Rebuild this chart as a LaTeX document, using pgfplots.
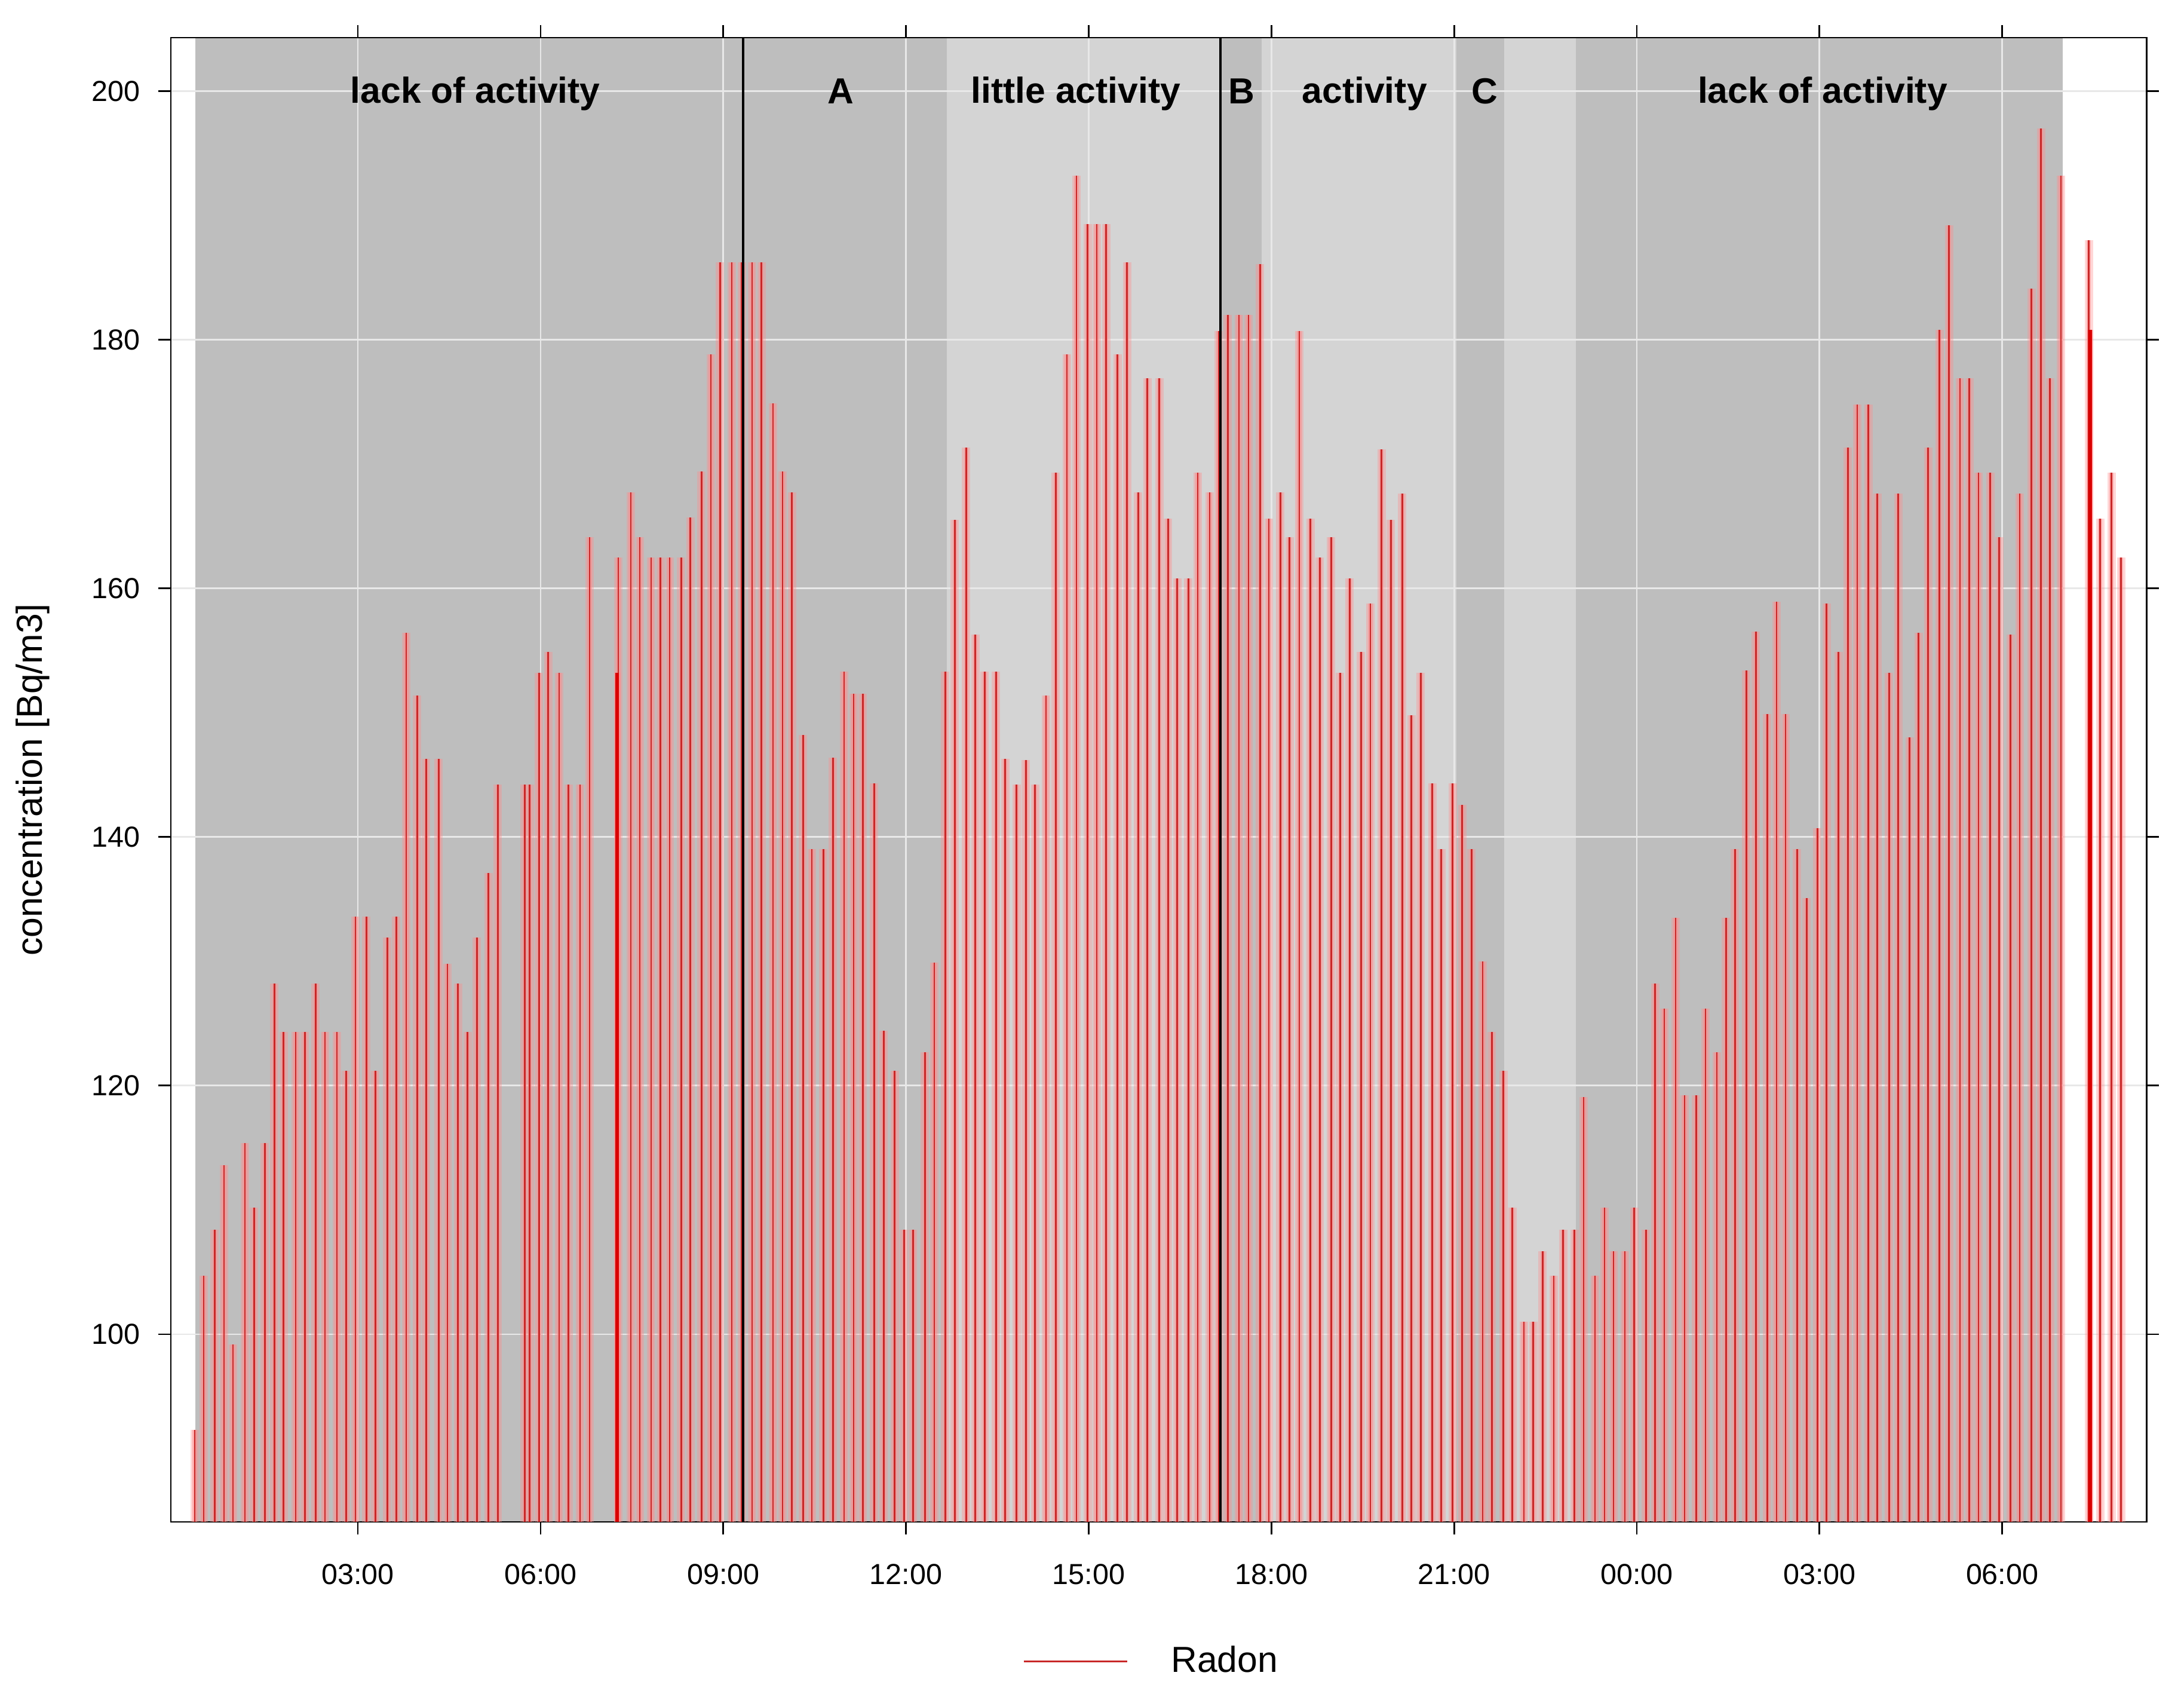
\documentclass[border=0pt]{standalone}
\usepackage{pgfplots}
\pgfplotsset{compat=1.18}
\usepackage{pgfplotstable}
\usepackage{fontspec}
\setmainfont{Liberation Sans}

\definecolor{bgdark}{RGB}{190,190,190}
\definecolor{bglight}{RGB}{212,212,212}
\definecolor{gridc}{RGB}{232,232,232}
\definecolor{halo}{RGB}{255,140,140}
\definecolor{core}{RGB}{200,40,40}

% hours since midnight of day 1, radon concentration
\pgfplotstableread{
t rn
0.322 92.3
0.469 104.7
0.649 108.4
0.802 113.6
0.950 99.2
1.146 115.4
1.296 110.2
1.473 115.4
1.630 128.2
1.780 124.3
1.979 124.3
2.130 124.3
2.306 128.2
2.460 124.3
2.656 124.3
2.806 121.2
2.960 133.6
3.140 133.6
3.287 121.2
3.483 131.9
3.630 133.6
3.794 156.4
3.974 151.4
4.121 146.3
4.327 146.3
4.471 129.8
4.644 128.2
4.801 124.3
4.954 131.9
5.145 137.1
5.298 144.2
5.740 144.2
5.821 144.2
5.975 153.2
6.125 154.9
6.305 153.2
6.459 144.2
6.648 144.2
6.805 164.1
7.275 162.5
7.482 167.7
7.629 164.1
7.815 162.5
7.970 162.5
8.120 162.5
8.309 162.5
8.460 165.7
8.643 169.4
8.797 178.8
8.947 186.2
9.140 186.2
9.303 186.2
9.473 186.2
9.627 186.2
9.816 174.9
9.973 169.4
10.127 167.7
10.310 148.2
10.454 139.0
10.644 139.0
10.801 146.4
10.984 153.3
11.141 151.5
11.291 151.5
11.477 144.3
11.634 124.4
11.814 121.2
11.968 108.4
12.115 108.4
12.311 122.7
12.465 129.9
12.645 153.3
12.801 165.5
12.988 171.3
13.138 156.3
13.292 153.3
13.478 153.3
13.629 146.3
13.815 144.2
13.969 146.2
14.120 144.2
14.299 151.4
14.459 169.3
14.643 178.8
14.800 193.2
14.983 189.3
15.133 189.3
15.287 189.3
15.473 178.8
15.630 186.2
15.813 167.7
15.964 176.9
16.160 176.9
16.302 165.6
16.454 160.8
16.637 160.8
16.791 169.3
16.987 167.7
17.134 180.7
17.284 182.0
17.467 182.0
17.624 182.0
17.813 186.1
17.958 165.6
18.147 167.7
18.298 164.1
18.458 180.7
18.641 165.6
18.794 162.5
18.979 164.1
19.128 153.2
19.285 160.8
19.471 154.9
19.625 158.8
19.808 171.2
19.962 165.5
20.148 167.6
20.299 149.8
20.452 153.2
20.642 144.3
20.789 139.0
20.976 144.3
21.133 142.6
21.286 139.0
21.469 130.0
21.620 124.3
21.809 121.2
21.956 110.2
22.146 101.0
22.299 101.0
22.453 106.7
22.636 104.7
22.790 108.4
22.976 108.4
23.126 119.1
23.313 104.7
23.470 110.2
23.617 106.7
23.804 106.7
23.958 110.2
24.150 108.4
24.301 128.2
24.451 126.2
24.637 133.5
24.784 119.2
24.974 119.2
25.128 126.2
25.314 122.7
25.465 133.5
25.611 139.0
25.798 153.4
25.955 156.5
26.141 149.9
26.295 158.9
26.442 149.9
26.632 139.0
26.788 135.1
26.967 140.7
27.116 158.8
27.312 154.9
27.466 171.3
27.620 174.8
27.803 174.8
27.950 167.6
28.143 153.2
28.293 167.6
28.480 148.0
28.627 156.4
28.784 171.3
28.970 180.8
29.127 189.2
29.306 176.9
29.460 176.9
29.611 169.3
29.804 169.3
29.951 164.1
30.137 156.3
30.287 167.6
30.481 184.1
30.637 197.0
30.784 176.9
30.964 193.2
31.422 188.0
31.608 165.6
31.794 169.3
31.951 162.5
}\radon

% doubled readings, drawn heavier
\pgfplotstableread{
t rn
7.260 153.2
31.448 180.8
}\radondup

\begin{document}
\begin{tikzpicture}[font=\fontsize{13}{15}\selectfont]
\begin{axis}[
  set layers,
  scale only axis, width=709.2pt, height=532.7pt,
  xmin=-0.07, xmax=32.37, ymin=84.9, ymax=204.3,
  axis line style={line width=0.6pt},
  tick align=outside, tick pos=both, major tick length=4.5pt,
  tick style={line width=0.6pt, black},
  xticklabel pos=bottom, yticklabel pos=left,
  xtick={3,6,...,30},
  xticklabels={03:00,06:00,09:00,12:00,15:00,18:00,21:00,00:00,03:00,06:00},
  ytick={100,120,...,200},
  grid=major, major grid style={gridc, line width=0.6pt},
  ticklabel style={font=\fontsize{10.4}{12}\selectfont},
  xticklabel style={yshift=-7pt},
  yticklabel style={xshift=-3pt},
  /pgf/number format/assume math mode=true,
  ylabel={concentration [Bq/m3]},
  every axis y label/.style={at={(axis description cs:-0.0698,0.5)}, rotate=90, anchor=center},
  legend style={at={(axis description cs:0.5,0)}, anchor=center, yshift=-50pt, xshift=-2pt,
    draw=none, fill=none, font=\fontsize{13}{15}\selectfont,
    /tikz/every odd column/.append style={column sep=13.5pt}},
  legend image code/.code={\draw[core, line width=0.7pt] (0pt,0pt) -- (37pt,0pt);},
]
% activity periods
\addplot[fill=bgdark, draw=none, forget plot, on layer=axis background] coordinates {(0.335,84.9) (0.335,204.3) (12.67,204.3) (12.67,84.9)};
\addplot[fill=bglight, draw=none, forget plot, on layer=axis background] coordinates {(12.67,84.9) (12.67,204.3) (17.166,204.3) (17.166,84.9)};
\addplot[fill=bgdark, draw=none, forget plot, on layer=axis background] coordinates {(17.166,84.9) (17.166,204.3) (17.837,204.3) (17.837,84.9)};
\addplot[fill=bglight, draw=none, forget plot, on layer=axis background] coordinates {(17.837,84.9) (17.837,204.3) (21.041,204.3) (21.041,84.9)};
\addplot[fill=bgdark, draw=none, forget plot, on layer=axis background] coordinates {(21.041,84.9) (21.041,204.3) (21.825,204.3) (21.825,84.9)};
\addplot[fill=bglight, draw=none, forget plot, on layer=axis background] coordinates {(21.825,84.9) (21.825,204.3) (23.002,204.3) (23.002,84.9)};
\addplot[fill=bgdark, draw=none, forget plot, on layer=axis background] coordinates {(23.002,84.9) (23.002,204.3) (30.99,204.3) (30.99,84.9)};

% soft pink glow round each spike, as in the reference
\addplot[ycomb, draw=halo, draw opacity=0.35, line width=3.0pt, forget plot] table[x=t, y=rn] {\radon};
\addplot[ycomb, draw=halo, draw opacity=0.55, line width=1.6pt, forget plot] table[x=t, y=rn] {\radon};
\addplot[ycomb, draw=halo, draw opacity=0.55, line width=2.2pt, forget plot] table[x=t, y=rn] {\radondup};
\addplot[ycomb, draw=core, line width=0.6pt] table[x=t, y=rn] {\radon};
\addlegendentry{Radon}
\addplot[ycomb, draw=red!85!black, line width=1.3pt, forget plot] table[x=t, y=rn] {\radondup};

\addplot[black, line width=0.8pt, forget plot] coordinates {(9.329,84.9) (9.329,204.3)};
\addplot[black, line width=0.8pt, forget plot] coordinates {(17.166,84.9) (17.166,204.3)};

\node[font=\bfseries\fontsize{13}{15}\selectfont] at (axis cs:4.93,199.8) {lack of activity};
\node[font=\bfseries\fontsize{13}{15}\selectfont] at (axis cs:10.93,200) {A};
\node[font=\bfseries\fontsize{13}{15}\selectfont] at (axis cs:14.79,199.8) {little activity};
\node[font=\bfseries\fontsize{13}{15}\selectfont] at (axis cs:17.51,200) {B};
\node[font=\bfseries\fontsize{13}{15}\selectfont] at (axis cs:19.53,199.8) {activity};
\node[font=\bfseries\fontsize{13}{15}\selectfont] at (axis cs:21.5,200) {C};
\node[font=\bfseries\fontsize{13}{15}\selectfont] at (axis cs:27.05,199.8) {lack of activity};
\end{axis}
\pgfresetboundingbox
\path[use as bounding box] ([shift={(-61.35pt,-60.56pt)}]current axis.south west) rectangle ([shift={(13.45pt,13.5pt)}]current axis.north east);
\end{tikzpicture}
\end{document}
